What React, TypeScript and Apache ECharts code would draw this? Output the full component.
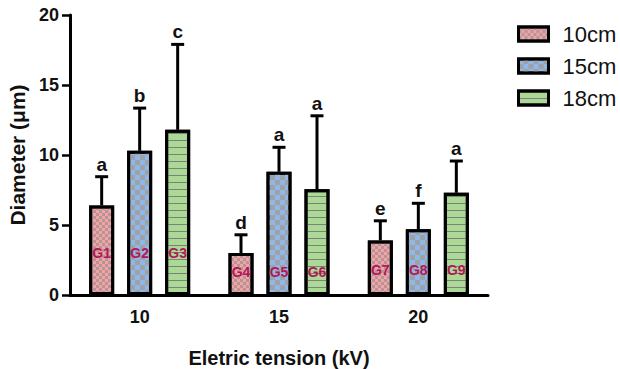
import React, { useEffect, useRef } from "react";
import * as echarts from "echarts";

const categories = ["10", "15", "20"];
const seriesNames = ["10cm", "15cm", "18cm"];

const means10 = [6.4, 3.0, 3.9];
const means15 = [10.3, 8.8, 4.7];
const means18 = [11.8, 7.55, 7.3];

const sd10 = [2.05, 1.3, 1.4];
const sd15 = [3.05, 1.75, 1.85];
const sd18 = [6.1, 5.25, 2.27];

const letters10 = ["a", "d", "e"];
const letters15 = ["b", "a", "f"];
const letters18 = ["c", "a", "a"];

const groups10 = ["G1", "G4", "G7"];
const groups15 = ["G2", "G5", "G8"];
const groups18 = ["G3", "G6", "G9"];

const yTicks = [0, 5, 10, 15, 20];

// layout / style constants
const BAR_W = 25;
const BAR_GAP = 0.52;
const LABEL_LIFT = [42, 23, 25];
const FONT = "'Liberation Sans', Arial, Helvetica, sans-serif";

const fills = ["#f2a3a6", "#8fb8e8", "#acd995"];
const decals: any[] = [
  {
    symbol: "rect",
    symbolSize: 1,
    color: "rgba(140,140,140,0.6)",
    dashArrayX: [[3, 3], [0, 3, 3, 0]],
    dashArrayY: [3, 0],
    rotation: 0,
  },
  {
    symbol: "rect",
    symbolSize: 1,
    color: "rgba(160,160,160,0.9)",
    dashArrayX: [[5, 5], [0, 5, 5, 0]],
    dashArrayY: [5, 0],
    rotation: 0,
  },
  {
    symbol: "rect",
    symbolSize: 1,
    color: "rgba(120,120,120,0.9)",
    dashArrayX: [8, 0],
    dashArrayY: [1, 6],
    rotation: 0,
  },
];

export default function App() {
  const ref = useRef<HTMLDivElement>(null);
  useEffect(() => {
    if (!ref.current) return;
    const chart = echarts.init(ref.current, undefined, { renderer: "svg" });
    const means = [means10, means15, means18];
    const sds = [sd10, sd15, sd18];
    const letters = [letters10, letters15, letters18];
    const groups = [groups10, groups15, groups18];

    const barSeries = seriesNames.map((name, s) => ({
      name,
      type: "bar",
      barWidth: BAR_W,
      barGap: BAR_GAP * 100 + "%",
      data: means[s],
      itemStyle: {
        color: fills[s],
        borderColor: "#000",
        borderWidth: 3,
        decal: decals[s],
      },
      emphasis: { disabled: true },
      z: 2,
    }));

    const errSeries = seriesNames.map((name, s) => ({
      name: name + "-err",
      type: "custom",
      z: 3,
      data: means[s].map((m, i) => [i, m, sds[s][i]]),
      encode: { x: 0, y: 1 },
      renderItem: (params: any, api: any) => {
        const i = params.dataIndex;
        const cat = api.value(0);
        const mean = api.value(1);
        const sd = api.value(2);
        const base = api.coord([cat, mean]);
        const top = api.coord([cat, mean + sd]);
        const zero = api.coord([cat, 0]);
        const x = base[0] + (s - 1) * BAR_W * (1 + BAR_GAP);
        return {
          type: "group",
          children: [
            {
              type: "line",
              shape: { x1: x, y1: base[1], x2: x, y2: top[1] },
              style: { stroke: "#000", lineWidth: 3 },
            },
            {
              type: "line",
              shape: { x1: x - 6.5, y1: top[1], x2: x + 6.5, y2: top[1] },
              style: { stroke: "#000", lineWidth: 3 },
            },
            {
              type: "text",
              style: {
                text: letters[s][i],
                x,
                y: top[1] - 3,
                align: "center",
                verticalAlign: "bottom",
                font: `bold 19px ${FONT}`,
                fill: "#111",
              },
            },
            {
              type: "text",
              style: {
                text: groups[s][i],
                x,
                y: zero[1] - LABEL_LIFT[i],
                align: "center",
                verticalAlign: "middle",
                font: `bold 14px ${FONT}`,
                fill: "#b3175a",
              },
            },
          ],
        };
      },
    }));

    chart.setOption({
      animation: false,
      textStyle: { fontFamily: FONT },
      grid: { left: 70, right: 132, top: 15, bottom: 74, outerBoundsMode: "none" },
      legend: {
        data: seriesNames,
        orient: "vertical",
        left: 512,
        top: 18,
        itemWidth: 30,
        itemHeight: 14,
        itemGap: 10,
        icon: "rect",
        itemStyle: { borderColor: "#000", borderWidth: 3 },
        textStyle: { fontSize: 22, color: "#111", fontFamily: FONT, padding: [0, 0, 0, 9] },
        selectedMode: false,
      },
      xAxis: {
        type: "category",
        data: categories,
        name: "Eletric tension (kV)",
        nameLocation: "middle",
        nameGap: 53,
        nameTextStyle: { fontSize: 20, fontWeight: "bold", color: "#111", fontFamily: FONT },
        axisLine: { lineStyle: { color: "#000", width: 3 } },
        axisTick: { alignWithLabel: true, length: 7, lineStyle: { color: "#000", width: 2.5 } },
        axisLabel: { fontSize: 18, fontWeight: "bold", color: "#111", margin: 13, fontFamily: FONT },
      },
      yAxis: {
        type: "value",
        min: yTicks[0],
        max: yTicks[yTicks.length - 1],
        interval: 5,
        name: "Diameter (\u03bcm)",
        nameLocation: "middle",
        nameGap: 40,
        nameTextStyle: { fontSize: 21, fontWeight: "bold", color: "#111", fontFamily: FONT },
        axisLine: { show: true, lineStyle: { color: "#000", width: 3 } },
        axisTick: { show: true, length: 8, lineStyle: { color: "#000", width: 2.5 } },
        axisLabel: { fontSize: 18, fontWeight: "bold", color: "#111", margin: 11, fontFamily: FONT },
        splitLine: { show: false },
      },
      series: [...barSeries, ...errSeries],
    });
    return () => chart.dispose();
  }, []);
  return (
    <div
      ref={ref}
      style={{ position: "fixed", left: 0, top: 0, width: 620, height: 369, background: "#fff" }}
    />
  );
}
